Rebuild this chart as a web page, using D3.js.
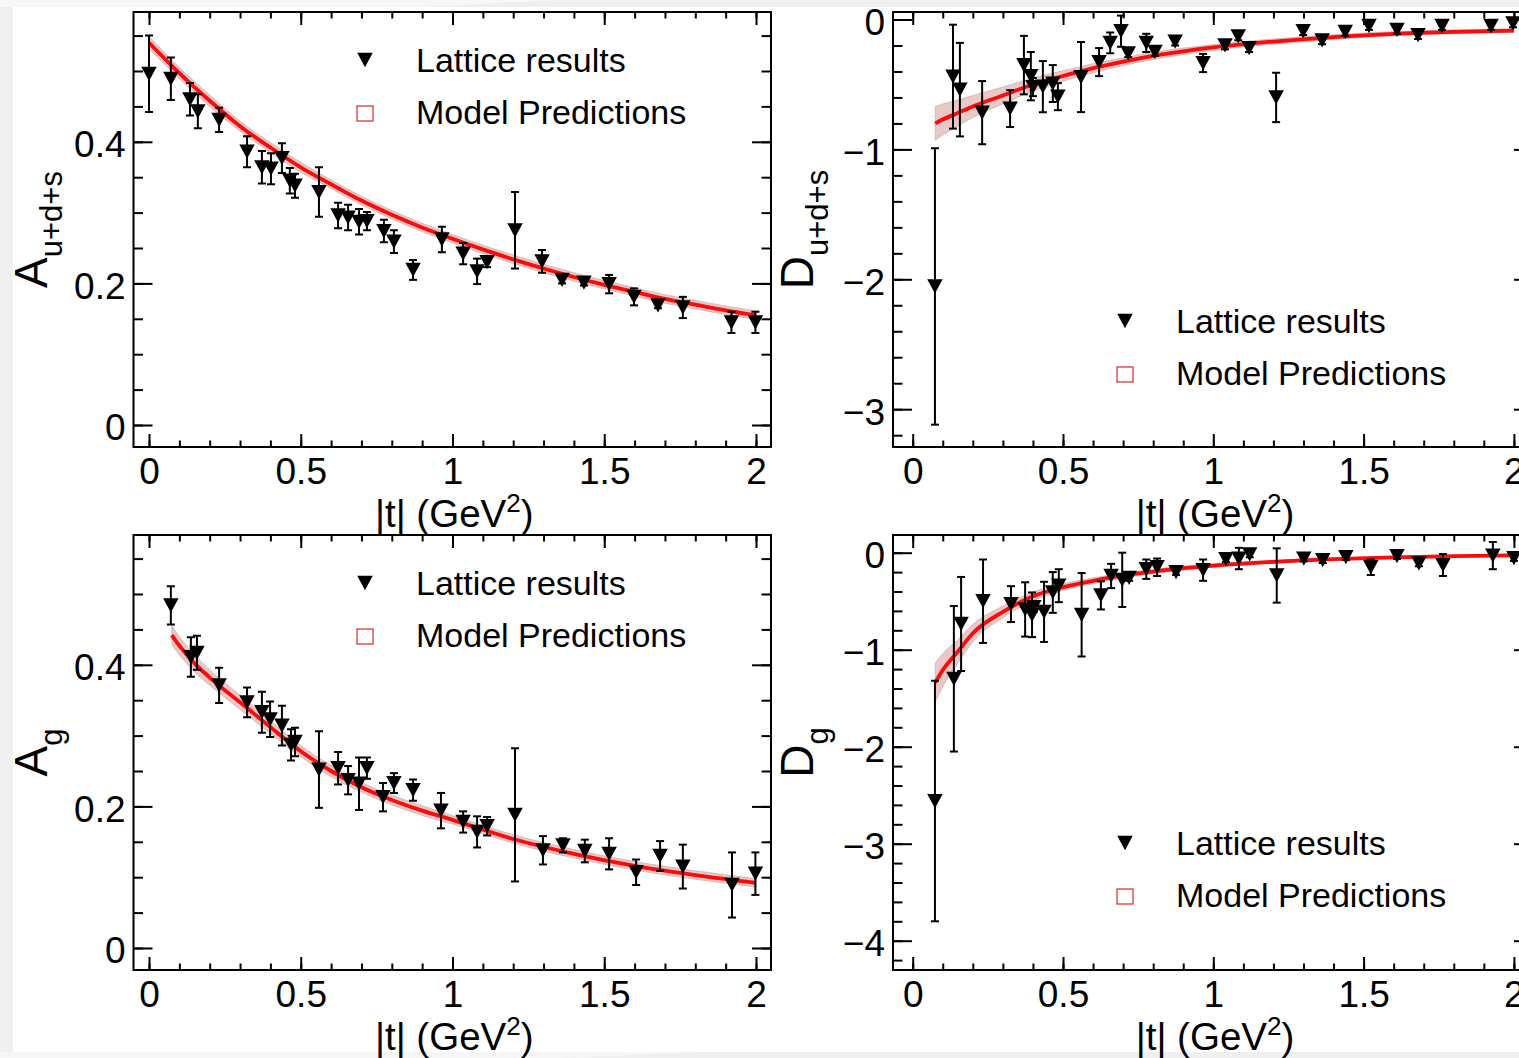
<!DOCTYPE html>
<html>
<head>
<meta charset="utf-8">
<script src="https://cdn.jsdelivr.net/npm/d3@7"></script>
<style>
  html, body { margin: 0; padding: 0; background: #efefef; }
  svg { display: block; font-family: "Liberation Sans", Arial, Helvetica, sans-serif; }
</style>
</head>
<body>
<svg id="fig" width="1519" height="1058"></svg>
<script>
// ---------------- Lattice results: |t| (GeV^2), value, error ----------------
const tAuds   = [0.000,0.072,0.135,0.161,0.231,0.323,0.372,0.402,0.438,0.464,0.481,0.560,0.623,0.656,0.692,0.718,0.774,0.807,0.870,0.965,1.035,1.081,1.114,1.206,1.295,1.361,1.433,1.516,1.598,1.677,1.759,1.919,1.998];
const Auds    = [0.496,0.489,0.460,0.443,0.431,0.386,0.364,0.362,0.377,0.345,0.338,0.329,0.296,0.293,0.287,0.288,0.274,0.259,0.219,0.262,0.242,0.217,0.230,0.275,0.231,0.205,0.201,0.199,0.181,0.169,0.166,0.145,0.145];
const AudsErr = [0.054,0.030,0.023,0.024,0.017,0.022,0.023,0.022,0.021,0.018,0.017,0.035,0.018,0.018,0.018,0.013,0.016,0.016,0.014,0.018,0.015,0.018,0.007,0.054,0.016,0.005,0.004,0.013,0.012,0.004,0.015,0.015,0.015];

const tDuds   = [0.074,0.134,0.157,0.231,0.324,0.370,0.393,0.400,0.433,0.466,0.483,0.560,0.620,0.657,0.693,0.717,0.777,0.806,0.873,0.966,1.039,1.083,1.119,1.209,1.299,1.362,1.439,1.518,1.611,1.681,1.761,1.924,1.997];
const Duds    = [-2.055,-0.440,-0.540,-0.717,-0.686,-0.351,-0.436,-0.520,-0.517,-0.493,-0.594,-0.443,-0.328,-0.180,-0.090,-0.260,-0.180,-0.250,-0.170,-0.335,-0.200,-0.130,-0.220,-0.600,-0.090,-0.160,-0.095,-0.050,-0.080,-0.120,-0.050,-0.050,-0.030];
const DudsErr = [1.064,0.400,0.360,0.243,0.142,0.225,0.186,0.070,0.197,0.142,0.104,0.270,0.108,0.080,0.120,0.030,0.070,0.030,0.030,0.070,0.030,0.030,0.030,0.190,0.030,0.030,0.030,0.030,0.030,0.030,0.030,0.030,0.030];

const tAg     = [0.072,0.138,0.158,0.231,0.323,0.372,0.399,0.438,0.468,0.481,0.560,0.623,0.656,0.692,0.718,0.771,0.807,0.870,0.962,1.035,1.081,1.114,1.206,1.298,1.364,1.436,1.516,1.605,1.684,1.759,1.921,1.998];
const Ag      = [0.484,0.411,0.417,0.371,0.347,0.333,0.323,0.314,0.287,0.291,0.252,0.254,0.237,0.232,0.254,0.213,0.233,0.223,0.194,0.178,0.164,0.172,0.188,0.138,0.145,0.137,0.133,0.107,0.130,0.115,0.089,0.105];
const AgErr   = [0.027,0.028,0.024,0.025,0.021,0.029,0.025,0.028,0.022,0.020,0.054,0.023,0.020,0.037,0.015,0.020,0.014,0.015,0.025,0.015,0.022,0.013,0.094,0.020,0.010,0.016,0.022,0.018,0.021,0.031,0.046,0.030];

const tDg     = [0.074,0.137,0.161,0.234,0.327,0.374,0.397,0.403,0.437,0.466,0.486,0.562,0.626,0.660,0.697,0.720,0.777,0.813,0.876,0.966,1.042,1.085,1.121,1.211,1.301,1.364,1.441,1.524,1.611,1.684,1.764,1.930,2.000];
const Dg      = [-2.560,-1.300,-0.735,-0.500,-0.530,-0.585,-0.640,-0.560,-0.610,-0.410,-0.340,-0.640,-0.440,-0.240,-0.280,-0.260,-0.170,-0.150,-0.200,-0.180,-0.065,-0.060,-0.017,-0.235,-0.060,-0.076,-0.046,-0.150,-0.035,-0.110,-0.127,-0.030,-0.055];
const DgErr   = [1.240,0.750,0.485,0.430,0.185,0.280,0.230,0.050,0.310,0.210,0.170,0.430,0.145,0.125,0.280,0.030,0.100,0.090,0.030,0.110,0.030,0.110,0.030,0.280,0.030,0.030,0.030,0.080,0.030,0.030,0.113,0.140,0.030];

// ---------------- Model predictions: central curve and half-width of the band ----------------
const tAudsModel = [0,0.1,0.2,0.3,0.4,0.5,0.6,0.7,0.8,0.9,1.0,1.1,1.2,1.3,1.4,1.5,1.6,1.7,1.8,1.9,2.0];
const AudsModel  = [0.540,0.497,0.458,0.422,0.392,0.364,0.340,0.317,0.297,0.279,0.263,0.248,0.234,0.221,0.209,0.198,0.188,0.178,0.170,0.162,0.155];
const AudsBand   = [0.009,0.008,0.008,0.007,0.007,0.007,0.006,0.006,0.006,0.006,0.006,0.006,0.006,0.006,0.006,0.006,0.006,0.006,0.006,0.006,0.006];

const tDudsModel = [0.075,0.1,0.15,0.2,0.3,0.4,0.5,0.6,0.7,0.8,0.9,1.0,1.2,1.4,1.6,1.8,2.0];
const DudsModel  = [-0.80,-0.77,-0.72,-0.67,-0.585,-0.50,-0.435,-0.375,-0.325,-0.28,-0.245,-0.215,-0.17,-0.135,-0.11,-0.095,-0.085];
const DudsBand   = [0.13,0.12,0.10,0.085,0.065,0.05,0.04,0.035,0.03,0.028,0.025,0.022,0.02,0.018,0.016,0.015,0.014];

const tAgModel   = [0.075,0.1,0.15,0.2,0.3,0.4,0.5,0.6,0.7,0.8,0.9,1.0,1.2,1.4,1.6,1.8,2.0];
const AgModel    = [0.442,0.427,0.402,0.382,0.347,0.312,0.278,0.250,0.227,0.209,0.194,0.181,0.154,0.133,0.116,0.103,0.092];
const AgBand     = [0.014,0.013,0.012,0.011,0.010,0.009,0.008,0.008,0.007,0.007,0.007,0.006,0.006,0.006,0.006,0.006,0.006];

const tDgModel   = [0.075,0.1,0.15,0.2,0.3,0.4,0.5,0.6,0.7,0.8,0.9,1.0,1.2,1.4,1.6,1.8,2.0];
const DgModel    = [-1.34,-1.21,-1.02,-0.83,-0.61,-0.45,-0.355,-0.29,-0.235,-0.195,-0.16,-0.133,-0.094,-0.067,-0.049,-0.036,-0.027];
const DgBand     = [0.20,0.17,0.12,0.09,0.06,0.045,0.035,0.03,0.025,0.022,0.02,0.018,0.015,0.012,0.011,0.01,0.01];

// ---------------- Axis ticks and labels ----------------
const xMajorTicks  = [0, 0.5, 1, 1.5, 2];
const xTickLabels  = ["0", "0.5", "1", "1.5", "2"];
const aMajorTicks  = [0, 0.2, 0.4];
const aTickLabels  = ["0", "0.2", "0.4"];
const dudsMajorTicks = [-3, -2, -1, 0];
const dudsTickLabels = ["\u22123", "\u22122", "\u22121", "0"];
const dgMajorTicks = [-4, -3, -2, -1, 0];
const dgTickLabels = ["\u22124", "\u22123", "\u22122", "\u22121", "0"];
const legendLabels = ["Lattice results", "Model Predictions"];

// ---------------- Layout of the four pads ----------------
const pads = [
  { name: "A", sub: "u+d+s", frame: [133.5, 12, 771, 447], xZero: 149, xUnit: 303.5, yZero: 425, yUnit: 708,
    yMajor: aMajorTicks, yLabels: aTickLabels, yMinorStep: 0.05,
    t: tAuds, v: Auds, e: AudsErr, mt: tAudsModel, mv: AudsModel, mb: AudsBand,
    legend: [365, 60], titleX: 47 },
  { name: "D", sub: "u+d+s", frame: [893, 12, 1533, 447], xZero: 912.7, xUnit: 300.6, yZero: 19.5, yUnit: 129.9,
    yMajor: dudsMajorTicks, yLabels: dudsTickLabels, yMinorStep: 0.2,
    t: tDuds, v: Duds, e: DudsErr, mt: tDudsModel, mv: DudsModel, mb: DudsBand,
    legend: [1125, 321], titleX: 813 },
  { name: "A", sub: "g", frame: [133.5, 535, 771, 970], xZero: 149, xUnit: 303.5, yZero: 948, yUnit: 708,
    yMajor: aMajorTicks, yLabels: aTickLabels, yMinorStep: 0.05,
    t: tAg, v: Ag, e: AgErr, mt: tAgModel, mv: AgModel, mb: AgBand,
    legend: [365, 583], titleX: 47 },
  { name: "D", sub: "g", frame: [893, 535, 1533, 970], xZero: 912.7, xUnit: 300.6, yZero: 552.7, yUnit: 97,
    yMajor: dgMajorTicks, yLabels: dgTickLabels, yMinorStep: 0.2,
    t: tDg, v: Dg, e: DgErr, mt: tDgModel, mv: DgModel, mb: DgBand,
    legend: [1125, 843], titleX: 813 }
];

const svg = d3.select("#fig");

// page background with the white figure sheet
svg.append("rect").attr("width", 1519).attr("height", 1058).attr("fill", "#efefef");
svg.append("polygon").attr("points", "0,0 560,0 420,7 0,7").attr("fill", "#f7f7f7");
svg.append("polygon").attr("points", "0,1052 700,1052 560,1058 0,1058").attr("fill", "#f6f6f6");
svg.append("rect").attr("x", 13).attr("y", 7).attr("width", 1506).attr("height", 1045).attr("fill", "#ffffff");

// downward triangle centred on its bounding box
const downTriangle = {
  draw(ctx, size) {
    const w = size, h = size * 0.92;
    ctx.moveTo(-w / 2, -h / 2);
    ctx.lineTo(w / 2, -h / 2);
    ctx.lineTo(0, h / 2);
    ctx.closePath();
  }
};
const markerPath = d3.symbol().type(downTriangle).size(15.5)();

const INK = "#000000";
const RED = "#ff0a0a";

pads.forEach((p, idx) => {
  const [fx0, fy0, fx1, fy1] = p.frame;
  const x = d3.scaleLinear()
    .domain([(fx0 - p.xZero) / p.xUnit, (fx1 - p.xZero) / p.xUnit])
    .range([fx0, fx1]);
  const y = d3.scaleLinear()
    .domain([(p.yZero - fy1) / p.yUnit, (p.yZero - fy0) / p.yUnit])
    .range([fy1, fy0]);

  const g = svg.append("g").attr("class", "pad");
  const clipId = "clip" + idx;
  g.append("clipPath").attr("id", clipId)
    .append("rect").attr("x", fx0).attr("y", fy0).attr("width", fx1 - fx0).attr("height", fy1 - fy0);

  // tick positions
  const [xd0, xd1] = x.domain();
  const [yd0, yd1] = y.domain();
  const xMinor = d3.range(Math.ceil(xd0 / 0.1), Math.floor(xd1 / 0.1) + 1).map(k => +(k * 0.1).toFixed(3));
  const yMinor = d3.range(Math.ceil(yd0 / p.yMinorStep - 1e-6), Math.floor(yd1 / p.yMinorStep + 1e-6) + 1)
    .map(k => +(k * p.yMinorStep).toFixed(3));

  const styleAxis = sel => {
    sel.select(".domain").remove();
    sel.selectAll(".tick line").attr("stroke", INK).attr("stroke-width", 2);
    sel.selectAll(".tick text").attr("fill", INK).attr("font-size", 37)
      .attr("font-family", '"Liberation Sans", Arial, Helvetica, sans-serif');
  };

  // bottom axis (labelled) and top axis, ticks pointing inward
  g.append("g").attr("transform", `translate(0,${fy1})`)
    .call(d3.axisBottom(x).tickValues(xMinor).tickSize(-6.5).tickFormat(""))
    .call(styleAxis);
  g.append("g").attr("transform", `translate(0,${fy1})`)
    .call(d3.axisBottom(x).tickValues(xMajorTicks).tickSize(-13).tickPadding(11)
      .tickFormat((d, i) => xTickLabels[i]))
    .call(styleAxis);
  g.append("g").attr("transform", `translate(0,${fy0})`)
    .call(d3.axisTop(x).tickValues(xMinor).tickSize(-6.5).tickFormat(""))
    .call(styleAxis);
  g.append("g").attr("transform", `translate(0,${fy0})`)
    .call(d3.axisTop(x).tickValues(xMajorTicks).tickSize(-13).tickFormat(""))
    .call(styleAxis);

  // left axis (labelled) and right axis
  g.append("g").attr("transform", `translate(${fx0},0)`)
    .call(d3.axisLeft(y).tickValues(yMinor).tickSize(-9.5).tickFormat(""))
    .call(styleAxis);
  g.append("g").attr("transform", `translate(${fx0},0)`)
    .call(d3.axisLeft(y).tickValues(p.yMajor).tickSize(-19).tickPadding(8)
      .tickFormat((d, i) => p.yLabels[i]))
    .call(styleAxis)
    .call(s => s.selectAll(".tick text").attr("dy", "0.40em"));
  g.append("g").attr("transform", `translate(${fx1},0)`)
    .call(d3.axisRight(y).tickValues(yMinor).tickSize(-9.5).tickFormat(""))
    .call(styleAxis);
  g.append("g").attr("transform", `translate(${fx1},0)`)
    .call(d3.axisRight(y).tickValues(p.yMajor).tickSize(-19).tickFormat(""))
    .call(styleAxis);

  // model band and central curve
  const model = p.mt.map((t, i) => ({ t, v: p.mv[i], b: p.mb[i] }));
  const plot = g.append("g").attr("clip-path", `url(#${clipId})`);
  plot.append("path").datum(model)
    .attr("d", d3.area().curve(d3.curveMonotoneX)
      .x(d => x(d.t)).y0(d => y(d.v - d.b)).y1(d => y(d.v + d.b)))
    .attr("fill", "#d99a9a").attr("fill-opacity", 0.55)
    .attr("stroke", "#c8a0a0").attr("stroke-width", 1).attr("stroke-opacity", 0.6);
  plot.append("path").datum(model)
    .attr("d", d3.line().curve(d3.curveMonotoneX).x(d => x(d.t)).y(d => y(d.v)))
    .attr("fill", "none").attr("stroke", RED).attr("stroke-width", 3.8);

  // lattice points with error bars
  const pts = p.t.map((t, i) => ({ t, v: p.v[i], e: p.e[i] }));
  const bars = plot.append("g").attr("stroke", INK).attr("stroke-width", 2);
  pts.forEach(d => {
    const cx = x(d.t), top = y(d.v + d.e), bot = y(d.v - d.e);
    bars.append("line").attr("x1", cx).attr("x2", cx).attr("y1", top).attr("y2", bot);
    bars.append("line").attr("x1", cx - 4).attr("x2", cx + 4).attr("y1", top).attr("y2", top);
    bars.append("line").attr("x1", cx - 4).attr("x2", cx + 4).attr("y1", bot).attr("y2", bot);
  });
  plot.append("g").selectAll("path").data(pts).join("path")
    .attr("d", markerPath)
    .attr("transform", d => `translate(${x(d.t)},${y(d.v)})`)
    .attr("fill", INK);

  // frame
  g.append("rect").attr("x", fx0).attr("y", fy0).attr("width", fx1 - fx0).attr("height", fy1 - fy0)
    .attr("fill", "none").attr("stroke", INK).attr("stroke-width", 2);

  // legend
  const [lx, ly] = p.legend;
  const leg = g.append("g");
  leg.append("path").attr("d", markerPath).attr("transform", `translate(${lx},${ly})`).attr("fill", INK);
  leg.append("rect").attr("x", lx - 8).attr("y", ly + 46).attr("width", 16).attr("height", 15)
    .attr("fill", "none").attr("stroke", "#d93a3a").attr("stroke-width", 1.3);
  leg.append("text").attr("x", lx + 51).attr("y", ly + 12).attr("font-size", 34).attr("fill", INK)
    .text(legendLabels[0]);
  leg.append("text").attr("x", lx + 51).attr("y", ly + 64).attr("font-size", 34).attr("fill", INK)
    .text(legendLabels[1]);

  // axis titles
  const xt = g.append("text").attr("x", (fx0 + fx1) / 2 + 2).attr("y", fy1 + 80)
    .attr("text-anchor", "middle").attr("font-size", 38.5).attr("fill", INK);
  xt.append("tspan").text("|t| (GeV");
  xt.append("tspan").attr("font-size", 26).attr("dy", -15).text("2");
  xt.append("tspan").attr("dy", 15).text(")");

  const yt = g.append("text")
    .attr("transform", `translate(${p.titleX},${(fy0 + fy1) / 2}) rotate(-90)`)
    .attr("text-anchor", "middle").attr("font-size", 46).attr("fill", INK);
  yt.append("tspan").text(p.name);
  yt.append("tspan").attr("font-size", 31).attr("dy", 15).text(p.sub);
});
</script>
</body>
</html>
